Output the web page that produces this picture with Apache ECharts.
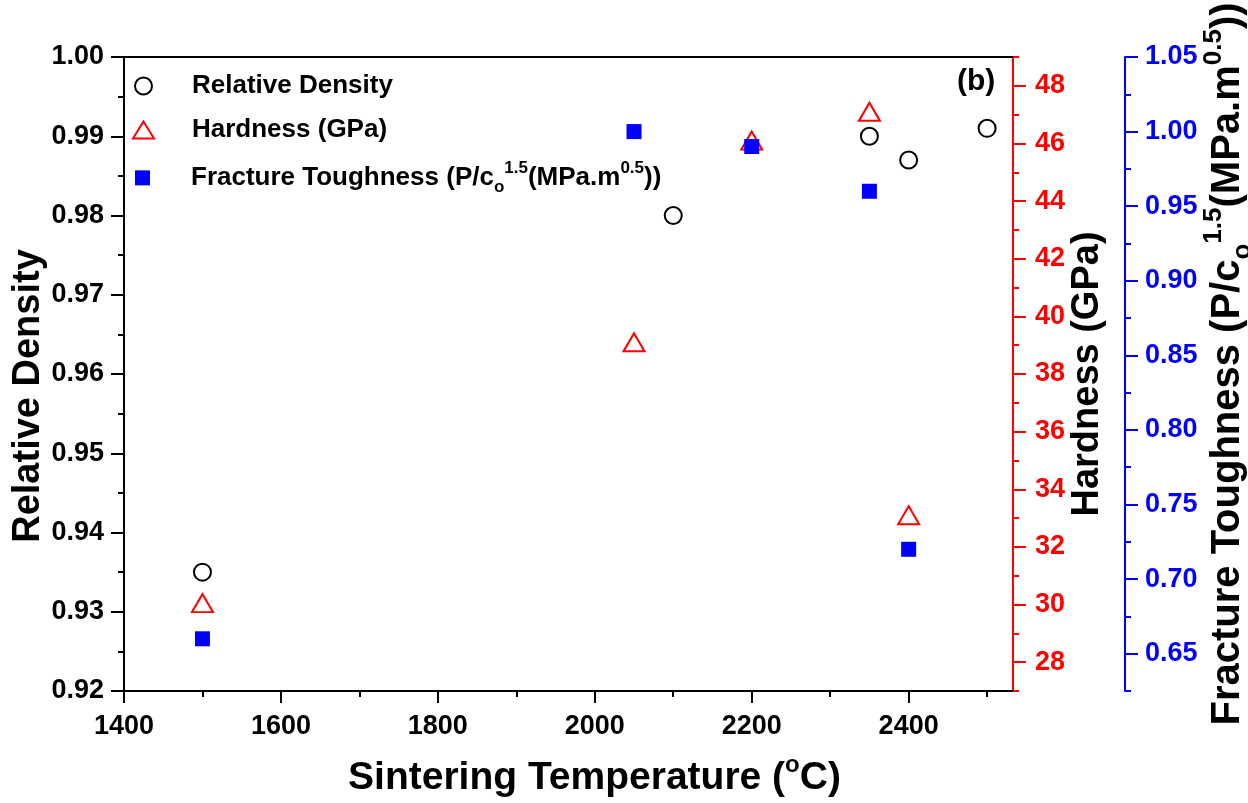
<!DOCTYPE html>
<html>
<head>
<meta charset="utf-8">
<script src="https://cdn.jsdelivr.net/npm/echarts@6/dist/echarts.min.js"></script>
<style>
html,body{margin:0;padding:0;background:#fff;}
#chart{width:1248px;height:803px;}
</style>
</head>
<body>
<div id="chart"></div>
<script>
// ---- data ----
const densityT = [1500, 2100, 2350, 2400, 2500];
const densityV = [0.935, 0.980, 0.990, 0.987, 0.991];
const hardT = [1500, 2050, 2200, 2350, 2400];
const hardV = [30.05, 39.1, 46.1, 47.1, 33.1];
const toughT = [1500, 2050, 2200, 2350, 2400];
const toughV = [0.660, 1.000, 0.990, 0.960, 0.720];

// ---- ticks ----
const xMajorTicks = [1400, 1600, 1800, 2000, 2200, 2400];
const xMinorTicks = [1500, 1700, 1900, 2100, 2300, 2500];
const densityMajorTicks = [0.92, 0.93, 0.94, 0.95, 0.96, 0.97, 0.98, 0.99, 1.00];
const densityMinorTicks = [0.925, 0.935, 0.945, 0.955, 0.965, 0.975, 0.985, 0.995];
const hardMajorTicks = [28, 30, 32, 34, 36, 38, 40, 42, 44, 46, 48];
const hardMinorTicks = [27, 29, 31, 33, 35, 37, 39, 41, 43, 45, 47, 49];
const toughMajorTicks = [0.65, 0.70, 0.75, 0.80, 0.85, 0.90, 0.95, 1.00, 1.05];
const toughMinorTicks = [0.625, 0.675, 0.725, 0.775, 0.825, 0.875, 0.925, 0.975, 1.025];

const names = ['Relative Density', 'Hardness (GPa)', 'Fracture Toughness (P/co1.5(MPa.m0.5))'];

const FONT = 'Liberation Sans, Arial, sans-serif';
const BLACK = '#000000', RED = '#ff0000', BLUE = '#0000ff';
const X_MIN = 1400, X_MAX = 2533;
const TICK_FS = 27, TITLE_FS = 38, LEGEND_FS = 26;

const chart = echarts.init(document.getElementById('chart'), null, {renderer: 'canvas'});

function zip(a, b) { return a.map((v, i) => [v, b[i]]); }

const supSub = (size) => ({
  sup: {fontSize: size, fontWeight: 'bold', fontFamily: FONT, verticalAlign: 'top', lineHeight: size * 2.1},
  sub: {fontSize: size, fontWeight: 'bold', fontFamily: FONT, verticalAlign: 'bottom', lineHeight: size * 0.6}
});

function titleStyle(fs, supSize, pad) {
  return {color: BLACK, fontSize: fs, fontWeight: 'bold', fontFamily: FONT, padding: pad, rich: supSub(supSize)};
}

function mainY(opts) {
  return Object.assign({
    type: 'value',
    splitLine: {show: false},
    axisLine: {show: true, onZero: false, lineStyle: {color: opts.color, width: 2}},
    axisTick: {show: true, inside: false, length: 13, customValues: opts.major, lineStyle: {color: opts.color, width: 2}},
    axisLabel: {show: true, customValues: opts.major, margin: opts.margin, color: opts.color,
      fontSize: TICK_FS, fontWeight: 'bold', fontFamily: FONT,
      formatter: opts.fmt},
    nameLocation: 'middle',
    nameRotate: 90,
    nameMoveOverlap: false
  }, opts.extra);
}
function minorY(opts) {
  return Object.assign({
    type: 'value',
    splitLine: {show: false},
    axisLine: {show: false, onZero: false},
    axisTick: {show: true, inside: false, length: 6, customValues: opts.minor, lineStyle: {color: opts.color, width: 2}},
    axisLabel: {show: false}
  }, opts.extra);
}

function legendBox(name, icon, w, h, left, top, pad, formatter) {
  return {
    orient: 'vertical', left: left, top: top, padding: 0,
    itemWidth: w, itemHeight: h, selectedMode: false,
    textStyle: {color: BLACK, fontSize: LEGEND_FS, fontWeight: 'bold', fontFamily: FONT, lineHeight: 30,
      padding: [0, 0, 0, pad], rich: supSub(17)},
    formatter: formatter,
    data: [{name: name, icon: icon}]
  };
}

const option = {
  backgroundColor: '#ffffff',
  animation: false,
  grid: {left: 124, right: 235, top: 57, bottom: 112, containLabel: false, outerBoundsMode: 'none'},
  legend: [
    legendBox(names[0], 'emptyCircle', 17, 17, 134, 71, 35),
    legendBox(names[1], 'emptyTriangle', 21, 17, 132, 115, 33),
    legendBox(names[2], 'rect', 15, 15, 135, 160, 36,
      () => 'Fracture Toughness (P/c{sub|o}{sup|1.5}(MPa.m{sup|0.5}))')
  ],
  xAxis: [
    {
      type: 'value', min: X_MIN, max: X_MAX, position: 'bottom',
      splitLine: {show: false},
      axisLine: {show: true, onZero: false, lineStyle: {color: BLACK, width: 2}},
      axisTick: {show: true, length: 12, customValues: xMajorTicks, lineStyle: {color: BLACK, width: 2}},
      axisLabel: {customValues: xMajorTicks, margin: 22, color: BLACK, fontSize: TICK_FS, fontWeight: 'bold', fontFamily: FONT,
        formatter: v => String(v)},
      name: 'Sintering Temperature ({sup|o}C)',
      nameLocation: 'middle', nameGap: 62, nameMoveOverlap: false,
      nameTextStyle: titleStyle(39, 24, [0, 0, 0, 52])
    },
    {
      type: 'value', min: X_MIN, max: X_MAX, position: 'bottom',
      splitLine: {show: false},
      axisLine: {show: false, onZero: false},
      axisTick: {show: true, length: 6, customValues: xMinorTicks, lineStyle: {color: BLACK, width: 2}},
      axisLabel: {show: false}
    },
    {
      type: 'value', min: X_MIN, max: X_MAX, position: 'top',
      splitLine: {show: false},
      axisLine: {show: true, onZero: false, lineStyle: {color: BLACK, width: 2}},
      axisTick: {show: false}, axisLabel: {show: false}
    }
  ],
  yAxis: [
    mainY({color: BLACK, major: densityMajorTicks, margin: 20, fmt: v => v.toFixed(2),
      extra: {min: 0.92, max: 1.00, position: 'left', name: 'Relative Density', nameGap: 76,
        nameTextStyle: titleStyle(TITLE_FS, 23, [0, 44, 0, 0])}}),
    minorY({color: BLACK, minor: densityMinorTicks, extra: {min: 0.92, max: 1.00, position: 'left'}}),
    mainY({color: RED, major: hardMajorTicks, margin: 22, fmt: v => String(v),
      extra: {min: 27, max: 49, position: 'right', offset: 0, name: 'Hardness (GPa)', nameGap: 56,
        nameTextStyle: titleStyle(TITLE_FS, 23, 0)}}),
    minorY({color: RED, minor: hardMinorTicks, extra: {min: 27, max: 49, position: 'right', offset: 0}}),
    mainY({color: BLUE, major: toughMajorTicks, margin: 20, fmt: v => v.toFixed(2),
      extra: {min: 0.625, max: 1.05, position: 'right', offset: 112,
        name: 'Fracture Toughness (P/c{sub|o}{sup|1.5}(MPa.m{sup|0.5}))', nameGap: 76,
        nameTextStyle: titleStyle(40, 26, [0, 0, 0, 20])}}),
    minorY({color: BLUE, minor: toughMinorTicks, extra: {min: 0.625, max: 1.05, position: 'right', offset: 112}})
  ],
  graphic: [
    {type: 'text', left: 957, top: 67, style: {text: '(b)', fill: BLACK, fontSize: 30, fontWeight: 'bold', fontFamily: FONT}}
  ],
  series: [
    {
      name: names[0], type: 'scatter', xAxisIndex: 0, yAxisIndex: 0,
      symbol: 'emptyCircle', symbolSize: 17,
      itemStyle: {color: BLACK, borderColor: BLACK, borderWidth: 2, opacity: 1},
      data: zip(densityT, densityV), z: 3
    },
    {
      name: names[1], type: 'scatter', xAxisIndex: 0, yAxisIndex: 2,
      symbol: 'emptyTriangle', symbolSize: [21, 18],
      itemStyle: {color: RED, borderColor: RED, borderWidth: 2, opacity: 1},
      data: zip(hardT, hardV), z: 4
    },
    {
      name: names[2], type: 'scatter', xAxisIndex: 0, yAxisIndex: 4,
      symbol: 'rect', symbolSize: 15,
      itemStyle: {color: BLUE, opacity: 1},
      data: zip(toughT, toughV), z: 5
    }
  ]
};
chart.setOption(option);
</script>
</body>
</html>
